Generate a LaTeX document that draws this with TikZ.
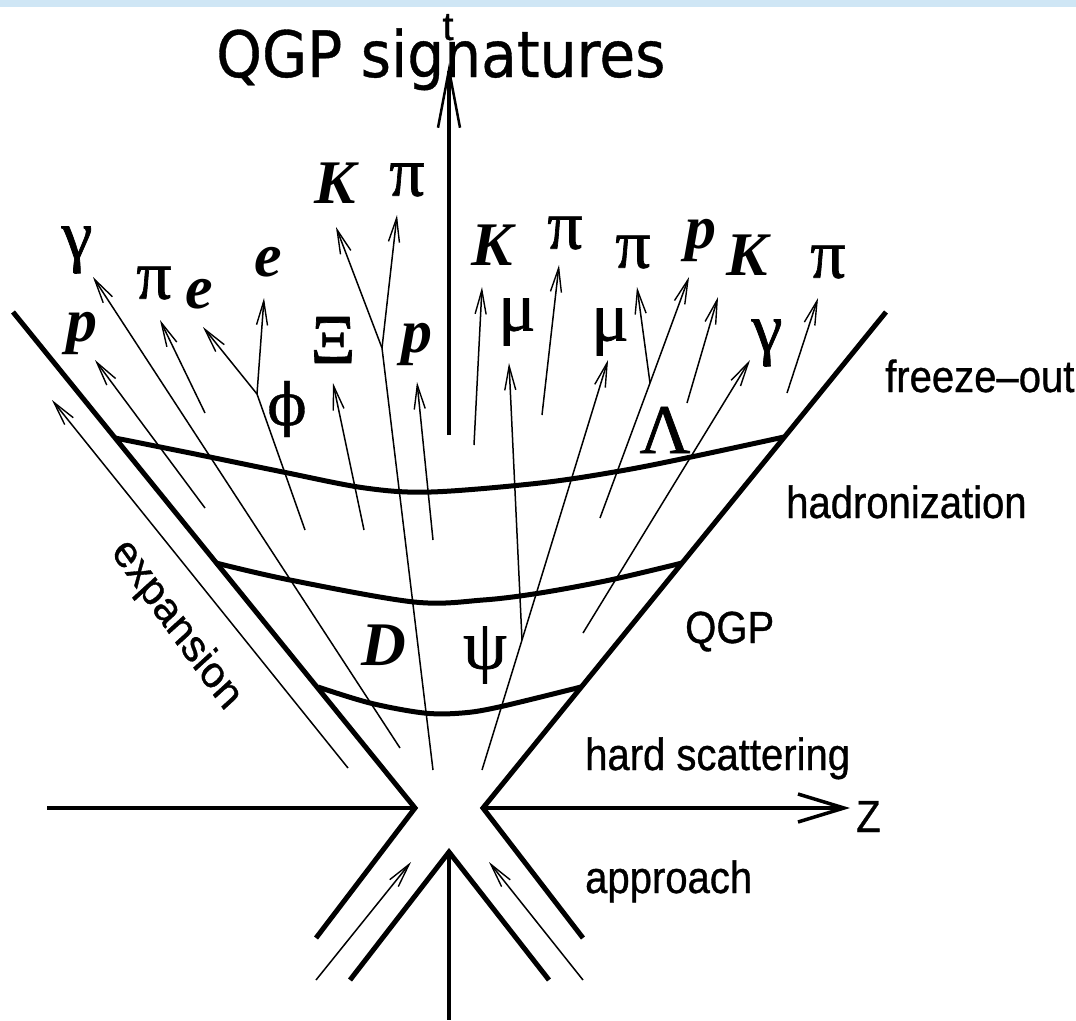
\documentclass[tikz,border=0pt]{standalone}
\usepackage{fontspec}
\setmainfont{Liberation Serif}
\newfontfamily\lsans[FakeBold=0.8]{Liberation Sans}
\newfontfamily\grkfont[FakeBold=1.0]{Liberation Serif}
\newfontfamily\phifont[FakeBold=0.6]{DejaVu Serif}
\newfontfamily\titlefont[FakeBold=0.6]{DejaVu Sans}
\usetikzlibrary{arrows.meta}
\definecolor{topbar}{RGB}{207,230,245}
\begin{document}
\begin{tikzpicture}[x=1pt,y=-1pt,
  heavy/.style={line width=5pt,line join=miter,line cap=butt},
  axis/.style={line width=4pt},
  surf/.style={line width=5pt,smooth,tension=0.55},
  track/.style={line width=1.5pt},
  parr/.style={line width=1.5pt,-{Straight Barb[length=24pt,width=11pt,line width=1.4pt]}},
  lat/.style={inner sep=0pt,font=\fontsize{62}{62}\selectfont\bfseries\itshape},
  grk/.style={inner sep=0pt,font=\grkfont\fontsize{70}{70}\selectfont},
  lbl/.style={inner sep=0pt,anchor=base west,xscale=0.89,font=\lsans\fontsize{45}{50}\selectfont},
]
\useasboundingbox (0,0) rectangle (1076,1020);
\fill[white] (0,0) rectangle (1076,1020);
\fill[topbar] (0,0) rectangle (1076,7);

% ---------- key points ----------
\coordinate (OL) at (415,808);
\coordinate (OR) at (483,808);
\coordinate (coneL) at (13,312);
\coordinate (coneR) at (886,312);
\coordinate (lowL) at (316,938);
\coordinate (lowR) at (583,938);
\coordinate (apex) at (449,852);
\coordinate (vL) at (350,980);
\coordinate (vR) at (549,980);
\coordinate (tbot) at (449,1020);
\coordinate (tA) at (449,435);
\coordinate (tB) at (449,63);
\coordinate (zL) at (47,808);
\coordinate (zR) at (850,808);

% ---------- light cone and axes ----------
\draw[heavy] (coneL) -- (OL) -- (lowL);
\draw[heavy] (coneR) -- (OR) -- (lowR);
\draw[heavy] (vL) -- (apex) -- (vR);
\draw[axis] (apex) -- (tbot);
\draw[axis] (zL) -- (OL);
\draw[axis,-{Straight Barb[length=46pt,width=28pt,line width=3.5pt]}] (OR) -- (zR);
\draw[axis,-{Straight Barb[length=58pt,width=22pt,line width=2.5pt]}] (tA) -- (tB);

% ---------- hypersurfaces ----------
\draw[surf] plot coordinates {(115,438) (200,455) (283,472) (365,488) (431,492) (540,483) (620,471) (691,457) (784,437)};
\draw[surf] plot coordinates {(216,563) (290,580) (414,602) (483,600) (540,593) (610,580) (682,563)};
\draw[surf] plot coordinates {(318,687) (370,703) (424,713) (462,713) (499,707) (581,687)};

% ---------- particle tracks ----------
\coordinate (exA) at (348,768); \coordinate (exB) at (52,400);
\coordinate (pLa) at (205,508); \coordinate (pLb) at (95,360);
\coordinate (gLa) at (400,748); \coordinate (gLb) at (93,277);
\coordinate (piLa) at (205,413); \coordinate (piLb) at (160,320);
\coordinate (phiA) at (305,530); \coordinate (phiV) at (257,394);
\coordinate (eA) at (203,327); \coordinate (eB) at (264,298);
\coordinate (xiA) at (364,530); \coordinate (xiB) at (333,383);
\coordinate (kpA) at (433,770); \coordinate (kpV) at (382,348);
\coordinate (kT) at (336,227); \coordinate (piT) at (397,215);
\coordinate (pCa) at (433,540); \coordinate (pCb) at (417,382);
\coordinate (kRa) at (474,445); \coordinate (kRb) at (482,287);
\coordinate (psiA) at (482,770); \coordinate (psiV) at (522,640);
\coordinate (muR) at (608,360); \coordinate (muL) at (509,363);
\coordinate (piBa) at (542,415); \coordinate (piBb) at (559,265);
\coordinate (lamA) at (600,518); \coordinate (lamV) at (650,383);
\coordinate (pR) at (689,277); \coordinate (piC) at (637,287);
\coordinate (kSa) at (687,403); \coordinate (kSb) at (718,297);
\coordinate (gRa) at (583,633); \coordinate (gRb) at (750,360);
\coordinate (piRa) at (787,393); \coordinate (piRb) at (818,298);
\coordinate (apLa) at (316,980); \coordinate (apLb) at (411,862);
\coordinate (apRa) at (583,980); \coordinate (apRb) at (489,862);

\draw[parr] (exA) -- (exB);
\draw[parr] (pLa) -- (pLb);
\draw[parr] (gLa) -- (gLb);
\draw[parr] (piLa) -- (piLb);
\draw[track] (phiA) -- (phiV);
\draw[parr] (phiV) -- (eA);
\draw[parr] (phiV) -- (eB);
\draw[parr] (xiA) -- (xiB);
\draw[track] (kpA) -- (kpV);
\draw[parr] (kpV) -- (kT);
\draw[parr] (kpV) -- (piT);
\draw[parr] (pCa) -- (pCb);
\draw[parr] (kRa) -- (kRb);
\draw[track] (psiA) -- (psiV);
\draw[parr] (psiV) -- (muR);
\draw[parr] (psiV) -- (muL);
\draw[parr] (piBa) -- (piBb);
\draw[track] (lamA) -- (lamV);
\draw[parr] (lamV) -- (pR);
\draw[parr] (lamV) -- (piC);
\draw[parr] (kSa) -- (kSb);
\draw[parr] (gRa) -- (gRb);
\draw[parr] (piRa) -- (piRb);
\draw[parr] (apLa) -- (apLb);
\draw[parr] (apRa) -- (apRb);

% ---------- particle labels ----------
\node[grk] (lgL) at (77,250) {γ};
\node[lat] (lpL) at (82,333) {p};
\node[grk] (lpiL) at (154,283) {π};
\node[lat] (le1) at (199,294) {e};
\node[lat] (le2) at (268,262) {e};
\node[lat] (lkT) at (335,183) {K};
\node[grk] (lpiT) at (407,180) {π};
\node[grk] (lxi) at (333,340) {Ξ};
\node[lat] (lpC) at (417,344) {p};
\node[inner sep=0pt,font=\phifont\fontsize{58}{58}\selectfont] (lphi) at (287,409) {ϕ};
\node[lat] (lkR) at (492,245) {K};
\node[grk] (lmuL) at (517,322) {μ};
\node[grk] (lpiB) at (565,233) {π};
\node[grk] (lpiC) at (633,252) {π};
\node[grk] (lmuR) at (610,332) {μ};
\node[lat] (lpR) at (701,240) {p};
\node[lat] (lkS) at (747,255) {K};
\node[grk] (lpiR) at (828,262) {π};
\node[grk] (lgR) at (767,343) {γ};
\node[grk] (llam) at (665,430) {Λ};
\node[lat] (lD) at (384,645) {D};
\node[grk] (lpsi) at (485,655) {ψ};

% ---------- stage labels ----------
\node[lbl] (tfo) at (885,392) {freeze–out};
\node[lbl] (thad) at (786,518) {hadronization};
\node[lbl] (tqgp) at (685,643) {QGP};
\node[lbl] (thard) at (585,770) {hard scattering};
\node[lbl] (tapp) at (585,893) {approach};
\node[lbl] (tz) at (856,832) {Z};
\node[inner sep=0pt,font=\lsans\fontsize{40}{40}\selectfont,anchor=base] (tt) at (448,40) {t};
\node[inner sep=0pt,xscale=0.89,rotate=-51,font=\lsans\fontsize{45}{50}\selectfont] (texp) at (176,625) {expansion};

% ---------- title ----------
\node[inner sep=0pt,anchor=base west,xscale=0.91,font=\titlefont\fontsize{64}{70}\selectfont] (title) at (216,77) {QGP signatures};
\end{tikzpicture}
\end{document}
